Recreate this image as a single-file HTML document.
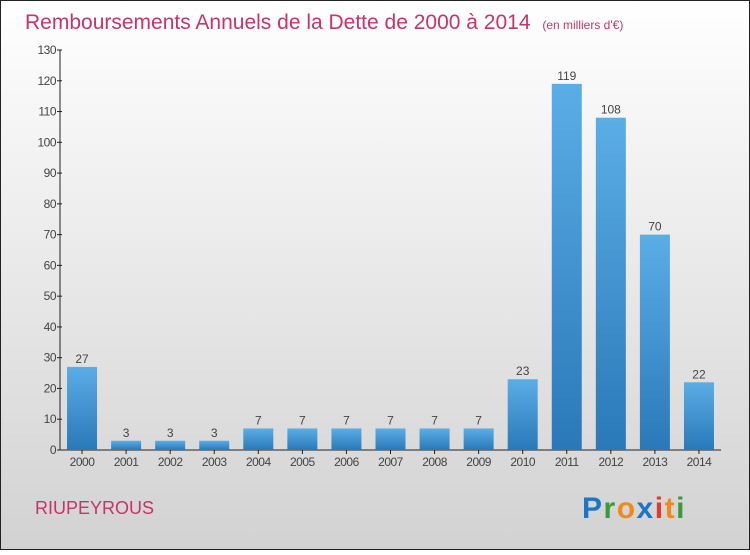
<!DOCTYPE html>
<html><head><meta charset="utf-8"><style>
body{margin:0}
svg text{font-family:"Liberation Sans",sans-serif}
</style></head><body>
<svg id="c" width="750" height="550" xmlns="http://www.w3.org/2000/svg">
<defs>
<linearGradient id="bg" x1="0" y1="0" x2="0" y2="1"><stop offset="0" stop-color="#ffffff"/><stop offset="1" stop-color="#d2d2d2"/></linearGradient>
<linearGradient id="bar" x1="0" y1="0" x2="0" y2="1"><stop offset="0" stop-color="#5aaee6"/><stop offset="1" stop-color="#2a78b8"/></linearGradient>
</defs>
<rect x="0.5" y="0.5" width="749" height="549" fill="url(#bg)" stroke="#222"/>
<text x="25" y="29" font-size="21" fill="#c8336a">Remboursements Annuels de la Dette de 2000 à 2014 <tspan font-size="12" dx="6">(en milliers d'€)</tspan></text>
<text x="35" y="514" font-size="18" fill="#c8336a">RIUPEYROUS</text>
<g font-size="30" font-weight="bold">
<text x="582" y="518" fill="#1a76c8" letter-spacing="1.5">P<tspan fill="#3a9a3a">r</tspan><tspan fill="#f08a1a">o</tspan><tspan fill="#1a76c8">x</tspan><tspan fill="#e03a2a">i</tspan><tspan fill="#f08a1a">t</tspan><tspan fill="#3a9a3a">i</tspan></text>
</g>
<g id="axes"></g><g id="bars"></g>
</svg>
<script>
const categories=["2000","2001","2002","2003","2004","2005","2006","2007","2008","2009","2010","2011","2012","2013","2014"];
const values=[27,3,3,3,7,7,7,7,7,7,23,119,108,70,22];
const yTicks=[0,10,20,30,40,50,60,70,80,90,100,110,120,130];
const NS="http://www.w3.org/2000/svg";
const y0=450,yTop=50,yMax=130,x0=60,x1=721;
const y=v=>y0-(v/yMax)*(y0-yTop);
const step=(x1-x0)/categories.length;
const xc=i=>x0+step*(i+0.5);
function mk(t,a,p){const e=document.createElementNS(NS,t);for(const k in a)e.setAttribute(k,a[k]);p.appendChild(e);return e;}
const ax=document.getElementById('axes'),bs=document.getElementById('bars');
let l=mk('line',{x1:x0,y1:yTop,x2:x0,y2:y0,stroke:'#222'},ax);


l=mk('line',{x1:x0,y1:y0,x2:x1,y2:y0,stroke:'#222'},ax);


yTicks.forEach(v=>{
 mk('line',{x1:x0-3,y1:y(v),x2:x0+2,y2:y(v),stroke:'#222'},ax);
 const t=mk('text',{x:x0-4,y:y(v)+4,'font-size':12,'text-anchor':'end',fill:'#444','letter-spacing':'-0.5'},ax);
 t.textContent=v;
 
 
});
categories.forEach((c,i)=>{
 const bw=30,v=values[i];
 const r=mk('rect',{x:xc(i)-bw/2,y:y(v),width:bw,height:y0-y(v),fill:'url(#bar)'},bs);
 
 
 mk('line',{x1:xc(i),y1:y0,x2:xc(i),y2:y0+4,stroke:'#222'},ax);
 const t=mk('text',{x:xc(i),y:y0+16,'font-size':12,'text-anchor':'middle',fill:'#444','letter-spacing':'-0.5'},ax);
 t.textContent=c;
 
 
 const lb=mk('text',{x:xc(i),y:y(v)-4,'font-size':12,'text-anchor':'middle',fill:'#444'},bs);
 lb.textContent=v;
 
 
});
</script>
</body></html>
